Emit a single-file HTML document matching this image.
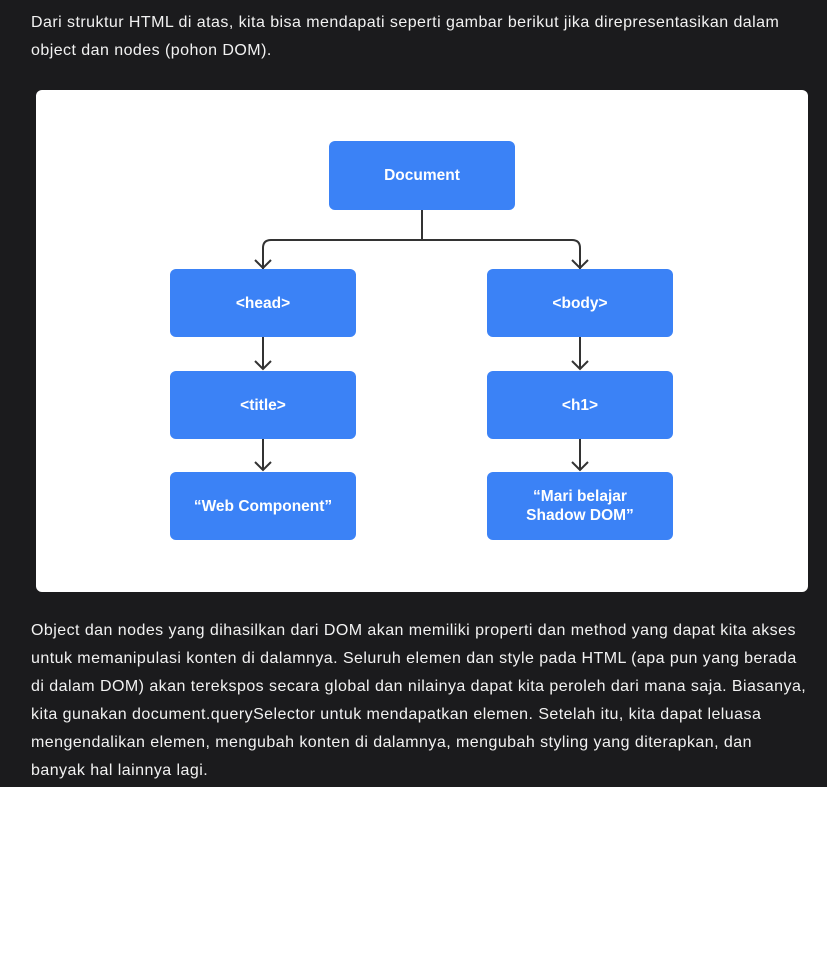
<!DOCTYPE html>
<html><head><meta charset="utf-8"><style>
html,body{margin:0;padding:0;background:#fff;}
.dark{position:absolute;left:0;top:0;width:827px;height:787px;background:#1b1b1d;}
p{position:absolute;left:31px;margin:0;color:#f2f2f2;font-family:"Liberation Sans",sans-serif;font-size:16px;line-height:28px;white-space:nowrap;letter-spacing:0.45px;}
.card{position:absolute;left:36px;top:90px;width:772px;height:502px;background:#fff;border-radius:6px;}
.b{position:absolute;width:186px;height:68px;background:#3b82f6;border-radius:6px;color:#fff;font-family:"Liberation Sans",sans-serif;font-weight:bold;font-size:15.5px;display:flex;align-items:center;justify-content:center;text-align:center;line-height:19px;}
svg{position:absolute;left:0;top:0;}
</style></head><body>
<div class="dark"></div>
<p style="top:9px">Dari struktur HTML di atas, kita bisa mendapati seperti gambar berikut jika direpresentasikan dalam<br>object dan nodes (pohon DOM).</p>
<div class="card"></div>
<svg width="827" height="964" fill="none" stroke="#333" stroke-width="2">
<path d="M422 210 V240 M263 269 V248 Q263 240 271 240 H572 Q580 240 580 248 V269"/>
<path d="M255 260 L263 268 L271 260 M572 260 L580 268 L588 260"/>
<path d="M263 337 V369 M255 361 L263 369 L271 361 M580 337 V369 M572 361 L580 369 L588 361"/>
<path d="M263 439 V470 M255 462 L263 470 L271 462 M580 439 V470 M572 462 L580 470 L588 462"/>
</svg>
<div class="b" style="left:329px;top:141px;height:69px">Document</div>
<div class="b" style="left:170px;top:269px">&lt;head&gt;</div>
<div class="b" style="left:487px;top:269px">&lt;body&gt;</div>
<div class="b" style="left:170px;top:371px">&lt;title&gt;</div>
<div class="b" style="left:487px;top:371px">&lt;h1&gt;</div>
<div class="b" style="left:170px;top:472px">“Web Component”</div>
<div class="b" style="left:487px;top:472px">“Mari belajar<br>Shadow DOM”</div>
<p style="top:617px">Object dan nodes yang dihasilkan dari DOM akan memiliki properti dan method yang dapat kita akses<br>untuk memanipulasi konten di dalamnya. Seluruh elemen dan style pada HTML (apa pun yang berada<br>di dalam DOM) akan terekspos secara global dan nilainya dapat kita peroleh dari mana saja. Biasanya,<br>kita gunakan document.querySelector untuk mendapatkan elemen. Setelah itu, kita dapat leluasa<br>mengendalikan elemen, mengubah konten di dalamnya, mengubah styling yang diterapkan, dan<br>banyak hal lainnya lagi.</p>
</body></html>
